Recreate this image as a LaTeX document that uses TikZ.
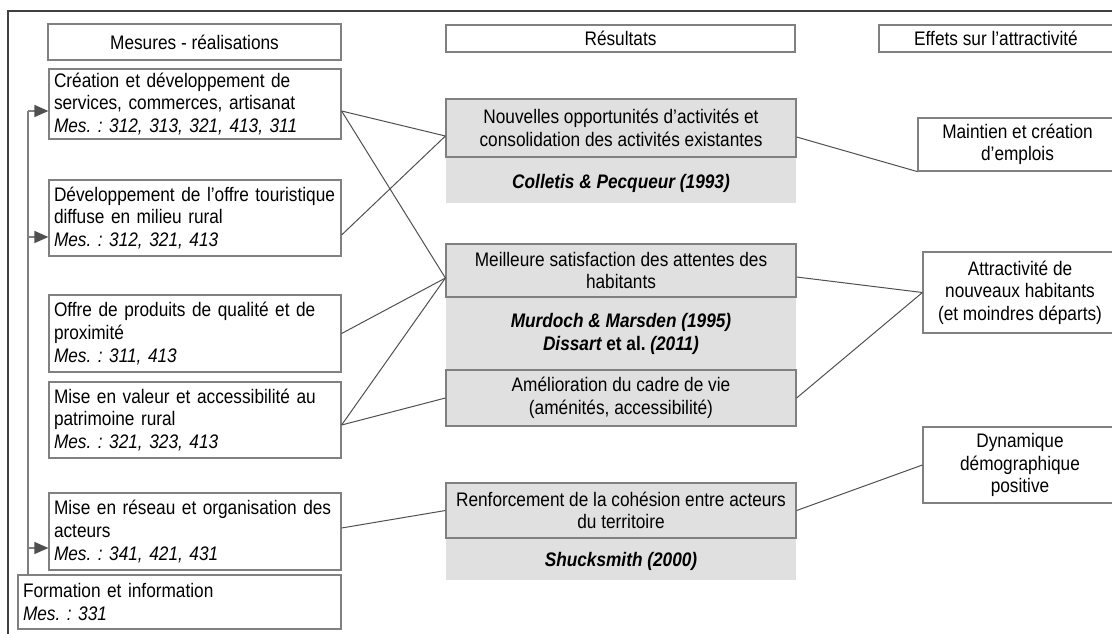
\documentclass[tikz,border=0pt]{standalone}
\usepackage{fontspec}
\setmainfont{Liberation Sans}[FakeStretch=0.88]
\usetikzlibrary{arrows.meta}
\frenchspacing
\definecolor{fondgris}{RGB}{224,224,224}
\definecolor{bordgris}{RGB}{128,128,128}
\definecolor{traitgris}{RGB}{80,80,80}
\definecolor{cadregris}{RGB}{64,64,64}
\tikzset{
  txt/.style={font=\fontsize{9.8pt}{11.3pt}\selectfont, text=black},
  mesure/.style={txt, draw=bordgris, line width=0.6pt, align=left, inner xsep=2.5pt, inner ysep=0pt},
  titre/.style={txt, draw=bordgris, line width=0.6pt, inner sep=0pt},
  resultat/.style={txt, draw=bordgris, line width=0.6pt, fill=fondgris, align=center, inner sep=0pt, minimum width=175pt},
  fond/.style={fill=fondgris, inner sep=0pt, minimum width=175pt},
  auteur/.style={txt, align=center, font=\fontsize{9.8pt}{11.3pt}\selectfont\bfseries\itshape},
  effet/.style={txt, draw=bordgris, line width=0.6pt, align=center, inner sep=0pt},
  lien/.style={draw=traitgris, line width=0.5pt},
  fleche/.style={draw=bordgris, line width=0.7pt, -{Triangle[length=7pt,width=6pt,color=traitgris]}}
}
\begin{document}
\begin{tikzpicture}[x=0.5pt, y=-0.5pt]
\useasboundingbox (0,0) rectangle (1112,633);
% cadre
\draw[cadregris, line width=0.9pt] (8,640) -- (8,11) -- (1120,11);

% en-tetes
\node[titre, minimum width=146.5pt, minimum height=18pt] (hMes) at (194.5,42) {Mesures - réalisations};
\node[titre, minimum width=174.5pt, minimum height=13.5pt] (hRes) at (620.5,38.5) {Résultats};
\node[titre, minimum width=117pt, minimum height=13.5pt] (hEff) at (996,38.5) {Effets sur l’attractivité};

% mesures
\node[mesure, text width=141pt, minimum height=35pt] (bCrea) at (195,104) {Création et développement de\\services, commerces, artisanat\\\textit{Mes. : 312, 313, 321, 413, 311}};
\node[mesure, text width=141pt, minimum height=38pt] (bTour) at (195,218) {Développement de l’offre touristique\\diffuse en milieu rural\\\textit{Mes. : 312, 321, 413}};
\node[mesure, text width=141pt, minimum height=38.5pt] (bProd) at (195,333.5) {Offre de produits de qualité et de\\proximité\\\textit{Mes. : 311, 413}};
\node[mesure, text width=141pt, minimum height=38pt] (bPatr) at (195,420) {Mise en valeur et accessibilité au\\patrimoine rural\\\textit{Mes. : 321, 323, 413}};
\node[mesure, text width=141pt, minimum height=38.5pt] (bRes) at (195,531.5) {Mise en réseau et organisation des\\acteurs\\\textit{Mes. : 341, 421, 431}};
\node[mesure, text width=156.5pt, minimum height=27pt] (bForm) at (179.5,602) {Formation et information\\\textit{Mes. : 331}};

% fleches de gauche
\draw[bordgris, line width=0.7pt] (28,111) -- (28,575);
\foreach \b/\y in {bCrea/111, bTour/237, bRes/548}
  \draw[fleche] (28,\y) -- (\b.west |- 0,\y);

% resultats
\node[fond, minimum height=52pt] (fNouv) at (621,151) {};
\node[fond, minimum height=91pt] (fMeil) at (621,335) {};
\node[fond, minimum height=48.5pt] (fRenf) at (621,531.5) {};
\node[resultat, minimum height=29pt] (nNouv) at (621,128) {Nouvelles opportunités d’activités et\\consolidation des activités existantes};
\node[auteur] (tColl) at (621,183) {Colletis \& Pecqueur (1993)};
\node[resultat, minimum height=26.5pt] (nMeil) at (621,270.5) {Meilleure satisfaction des attentes des\\habitants};
\node[auteur] (tMurd) at (621,334) {Murdoch \& Marsden (1995)\\Dissart {\upshape et al.} (2011)};
\node[resultat, minimum height=28pt] (nAmel) at (621,398) {Amélioration du cadre de vie\\(aménités, accessibilité)};
\node[resultat, minimum height=27.5pt] (nRenf) at (621,510.5) {Renforcement de la cohésion entre acteurs\\du territoire};
\node[auteur] (tShuck) at (621,561) {Shucksmith (2000)};

% effets
\node[effet, minimum width=99.5pt, minimum height=26.5pt] (nMaint) at (1017.5,144.5) {Maintien et création\\d’emplois};
\node[effet, minimum width=97pt, minimum height=40.5pt] (nAttr) at (1020,292.5) {Attractivité de\\nouveaux habitants\\(et moindres départs)};
\node[effet, minimum width=97pt, minimum height=38pt] (nDyn) at (1020,465) {Dynamique\\démographique\\positive};

% liens
\draw[lien] ([yshift=-3.5pt]bCrea.east) -- ([yshift=-4pt]nNouv.west);
\draw[lien] ([yshift=-3.5pt]bCrea.east) -- ([yshift=-3.75pt]nMeil.west);
\draw[lien] ([yshift=-8.5pt]bTour.east) -- ([yshift=-4pt]nNouv.west);
\draw[lien] (bProd.east) -- ([yshift=-3.75pt]nMeil.west);
\draw[lien] ([yshift=-2.5pt]bPatr.east) -- ([yshift=-3.75pt]nMeil.west);
\draw[lien] ([yshift=-2.5pt]bPatr.east) -- (nAmel.west);
\draw[lien] ([yshift=1.75pt]bRes.east) -- (nRenf.west);
\draw[lien] ([yshift=-4.5pt]nNouv.east) -- (nMaint.south west);
\draw[lien] ([yshift=-3.25pt]nMeil.east) -- (nAttr.west);
\draw[lien] (nAmel.east) -- (nAttr.west);
\draw[lien] (nRenf.east) -- (nDyn.west);
\end{tikzpicture}
\end{document}
